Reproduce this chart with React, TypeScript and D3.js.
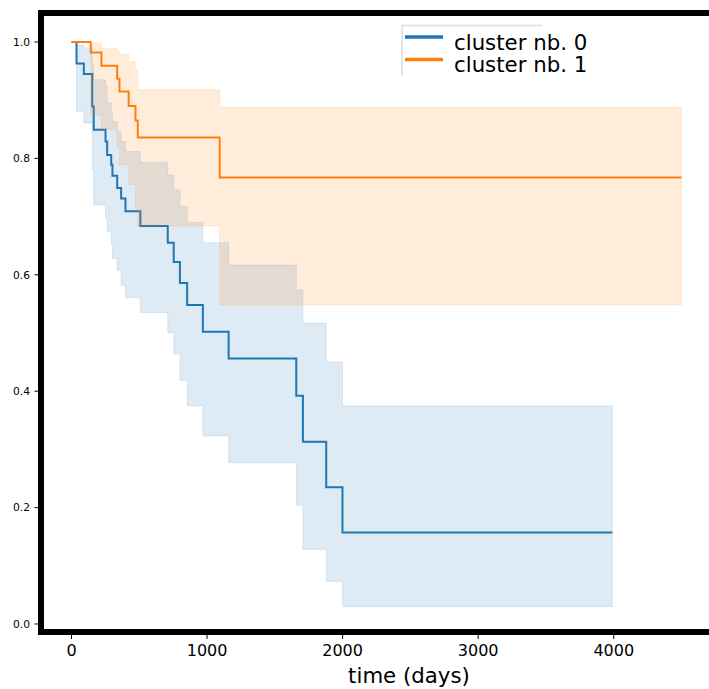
import React from "react";
import * as d3 from "d3";

// Kaplan–Meier estimates per cluster (time in days), with confidence bounds
const blueTimes = [0, 37, 91, 153, 164, 251, 263, 293, 302, 337, 366, 398, 508, 710, 754, 800, 853, 969, 1159, 1658, 1707, 1879, 1999, 3990];
const blueSurv = [1, 0.963, 0.945, 0.889, 0.849, 0.829, 0.806, 0.789, 0.77, 0.749, 0.731, 0.709, 0.684, 0.655, 0.622, 0.586, 0.548, 0.502, 0.456, 0.392, 0.313, 0.235, 0.157, 0.157];
const blueLower = [1, 0.88, 0.861, 0.78, 0.72, 0.697, 0.674, 0.651, 0.628, 0.607, 0.582, 0.561, 0.535, 0.5, 0.464, 0.419, 0.375, 0.323, 0.277, 0.204, 0.128, 0.073, 0.03, 0.03];
const blueUpper = [1, 0.995, 0.99, 0.96, 0.935, 0.923, 0.895, 0.877, 0.863, 0.846, 0.829, 0.812, 0.793, 0.771, 0.746, 0.717, 0.69, 0.655, 0.617, 0.574, 0.517, 0.45, 0.375, 0.375];

const orangeTimes = [0, 142, 221, 337, 354, 422, 472, 489, 1093, 4500];
const orangeSurv = [1, 0.982, 0.959, 0.937, 0.915, 0.89, 0.865, 0.836, 0.767, 0.767];
const orangeLower = [1, 0.875, 0.85, 0.82, 0.789, 0.755, 0.706, 0.684, 0.548, 0.548];
const orangeUpper = [1, 0.998, 0.989, 0.984, 0.979, 0.966, 0.952, 0.918, 0.888, 0.888];

const seriesNames = ["cluster nb. 0", "cluster nb. 1"];
const seriesColors = ["#1f77b4", "#ff7f0e"];

const xTicks = [0, 1000, 2000, 3000, 4000];
const yTicks = [0.0, 0.2, 0.4, 0.6, 0.8, 1.0];

const W = 709;
const H = 689;
const FONT = "DejaVu Sans, sans-serif";

type Pt = { t: number; s: number; lo: number; hi: number };

function zipSeries(t: number[], s: number[], lo: number[], hi: number[]): Pt[] {
  return t.map((tt, i) => ({ t: tt, s: s[i], lo: lo[i], hi: hi[i] }));
}

export default function App() {
  const x = d3.scaleLinear().domain([-225, 5200]).range([41, 41 + 5425 * 0.13556]);
  const y = d3.scaleLinear().domain([-0.01375, 1.0498]).range([632, 13]);

  const series = [
    zipSeries(blueTimes, blueSurv, blueLower, blueUpper),
    zipSeries(orangeTimes, orangeSurv, orangeLower, orangeUpper),
  ];

  const line = d3
    .line<Pt>()
    .x((d) => x(d.t))
    .y((d) => y(d.s))
    .curve(d3.curveStepAfter);

  const area = d3
    .area<Pt>()
    .x((d) => x(d.t))
    .y0((d) => y(d.lo))
    .y1((d) => y(d.hi))
    .curve(d3.curveStepAfter);

  const left = x.range()[0];
  const top = y.range()[1];
  const bottom = y.range()[0];

  return (
    <svg
      width={W}
      height={H}
      style={{ position: "absolute", left: 0, top: 0, background: "#fff" }}
      fontFamily={FONT}
    >
      <rect x={0} y={0} width={W} height={H} fill="#fff" />
      <defs>
        <clipPath id="plotClip">
          <rect x={left} y={top} width={W} height={bottom - top} />
        </clipPath>
      </defs>

      <g clipPath="url(#plotClip)">
        {series.map((d, i) => (
          <g key={i}>
            <path
              d={area(d.slice(1)) || ""}
              fill={seriesColors[i]}
              fillOpacity={0.15}
              stroke={seriesColors[i]}
              strokeOpacity={0.12}
              strokeWidth={1}
            />
            <path d={line(d) || ""} fill="none" stroke={seriesColors[i]} strokeWidth={2} />
          </g>
        ))}
      </g>

      {/* y axis ticks and labels */}
      {yTicks.map((v) => (
        <g key={v} transform={`translate(0,${y(v)})`}>
          <line x1={34.5} x2={38} stroke="#000" strokeWidth={1} />
          <text x={30} dy="0.35em" textAnchor="end" fontSize={10.7} fill="#000">
            {v.toFixed(1)}
          </text>
        </g>
      ))}

      {/* x axis ticks and labels */}
      {xTicks.map((v) => (
        <g key={v} transform={`translate(${x(v)},0)`}>
          <line y1={635} y2={639} stroke="#000" strokeWidth={1} />
          <text y={656} textAnchor="middle" fontSize={16} fill="#000">
            {v}
          </text>
        </g>
      ))}

      <text x={409} y={683} textAnchor="middle" fontSize={21.3} fill="#000">
        time (days)
      </text>

      {/* frame */}
      <line x1={left} x2={W + 10} y1={top} y2={top} stroke="#000" strokeWidth={6} />
      <line x1={left} x2={W + 10} y1={bottom} y2={bottom} stroke="#000" strokeWidth={6} />
      <line x1={left} x2={left} y1={top - 3} y2={bottom + 3} stroke="#000" strokeWidth={6} />

      {/* legend */}
      <g>
        <line x1={401.5} x2={542} y1={25.5} y2={25.5} stroke="#dddddd" strokeWidth={1.5} />
        <line x1={402} x2={402} y1={25} y2={76} stroke="#dddddd" strokeWidth={1.5} />
        {seriesNames.map((name, i) => (
          <g key={name} transform={`translate(0,${i * 22.5})`}>
            <line x1={405} x2={443} y1={37} y2={37} stroke={seriesColors[i]} strokeWidth={3.5} />
            <text x={454} y={49.5} fontSize={21.3} fill="#000">
              {name}
            </text>
          </g>
        ))}
      </g>
    </svg>
  );
}
